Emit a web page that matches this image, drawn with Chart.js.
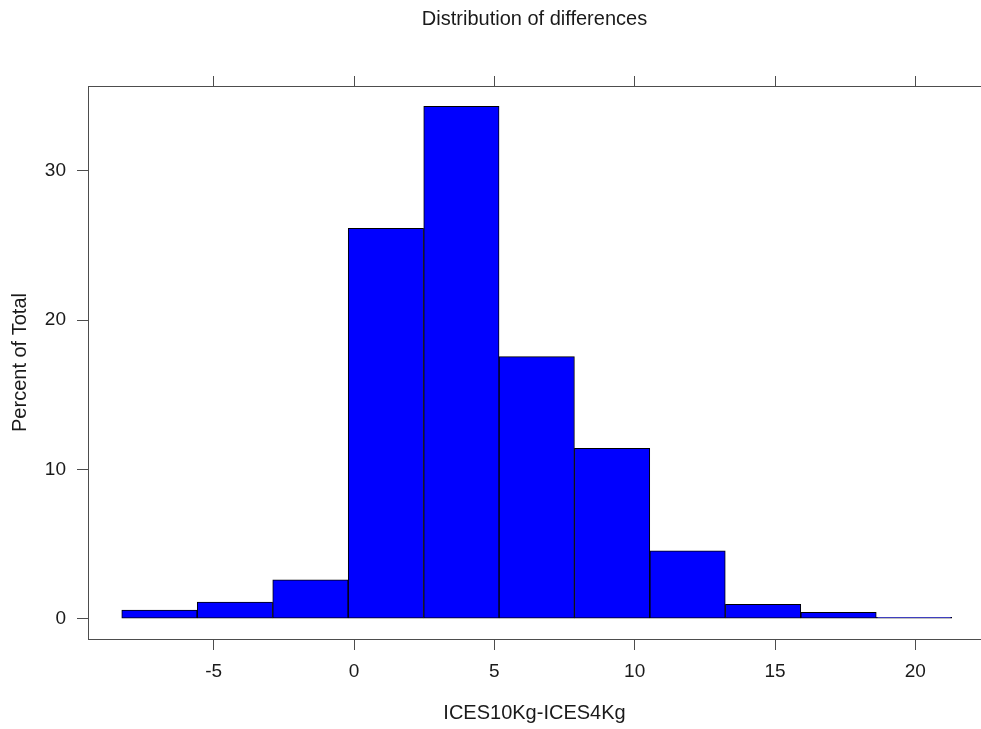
<!DOCTYPE html>
<html lang="en">
<head>
    <meta charset="UTF-8">
    <title>Distribution of differences</title>
    <script src="https://cdn.jsdelivr.net/npm/chart.js"></script>
    <style>
        body {
            margin: 0;
            padding: 0;
            background-color: #ffffff;
        }
        canvas {
            display: block;
        }
    </style>
</head>
<body>
    <canvas id="histChart" width="981" height="729"></canvas>

    <script>
        // histogram bins
        const binEdges = [-8.28, -5.59, -2.90, -0.21, 2.48, 5.17, 7.85, 10.54, 13.23, 15.92, 18.61, 21.30];
        const percentOfTotal = [0.58, 1.12, 2.61, 26.15, 34.32, 17.55, 11.41, 4.55, 0.96, 0.43, 0.09];
        const xTicks = [-5, 0, 5, 10, 15, 20];
        const yTicks = [0, 10, 20, 30];

        const binCenters = percentOfTotal.map((v, i) => (binEdges[i] + binEdges[i + 1]) / 2);

        const axisColor = '#4d4d4d';
        const textColor = '#1a1a1a';
        const fontFamily = "'Liberation Sans', Arial, sans-serif";

        const xRange = { min: -9.48, max: 22.34 };

        new Chart(document.getElementById('histChart'), {
            type: 'bar',
            data: {
                datasets: [{
                    label: 'Percent of Total',
                    data: binCenters.map((c, i) => ({ x: c, y: percentOfTotal[i] })),
                    backgroundColor: '#0000ff',
                    borderColor: '#000000',
                    borderWidth: 1,
                    borderSkipped: false,
                    barPercentage: 1,
                    categoryPercentage: 1
                }]
            },
            options: {
                responsive: false,
                animation: false,
                layout: { padding: 0 },
                plugins: {
                    legend: { display: false },
                    tooltip: { enabled: false },
                    title: { display: false }
                },
                scales: {
                    x: {
                        type: 'linear',
                        position: 'bottom',
                        offset: false,
                        min: xRange.min,
                        max: xRange.max,
                        afterBuildTicks: s => { s.ticks = xTicks.map(v => ({ value: v })); },
                        afterFit: s => { s.height = 90; },
                        grid: { offset: false, drawOnChartArea: false, drawTicks: true, tickLength: 11, color: axisColor },
                        border: { display: true, color: axisColor, width: 1 },
                        ticks: {
                            padding: 10,
                            color: textColor,
                            font: { family: fontFamily, size: 19 },
                            maxRotation: 0
                        },
                        title: {
                            display: true,
                            text: 'ICES10Kg-ICES4Kg',
                            color: textColor,
                            font: { family: fontFamily, size: 20 },
                            padding: { top: 0, bottom: 4 }
                        }
                    },
                    x2: {
                        type: 'linear',
                        axis: 'x',
                        position: 'top',
                        offset: false,
                        min: xRange.min,
                        max: xRange.max,
                        afterBuildTicks: s => { s.ticks = xTicks.map(v => ({ value: v })); },
                        afterFit: s => { s.height = 86; },
                        grid: { offset: false, drawOnChartArea: false, drawTicks: true, tickLength: 10, color: axisColor },
                        border: { display: true, color: axisColor, width: 1 },
                        ticks: { display: false },
                        title: {
                            display: true,
                            text: 'Distribution of differences',
                            color: textColor,
                            font: { family: fontFamily, size: 20 },
                            padding: { top: 7, bottom: 0 }
                        }
                    },
                    y: {
                        type: 'linear',
                        position: 'left',
                        min: -1.36,
                        max: 35.68,
                        afterBuildTicks: s => { s.ticks = yTicks.map(v => ({ value: v })); },
                        afterFit: s => { s.width = 88; },
                        grid: { drawOnChartArea: false, drawTicks: true, tickLength: 11, color: axisColor },
                        border: { display: true, color: axisColor, width: 1 },
                        ticks: {
                            padding: 11,
                            color: textColor,
                            font: { family: fontFamily, size: 19 }
                        },
                        title: {
                            display: true,
                            text: 'Percent of Total',
                            color: textColor,
                            font: { family: fontFamily, size: 20 },
                            padding: { top: 8, bottom: 0 }
                        }
                    }
                }
            }
        });
    </script>
</body>
</html>
